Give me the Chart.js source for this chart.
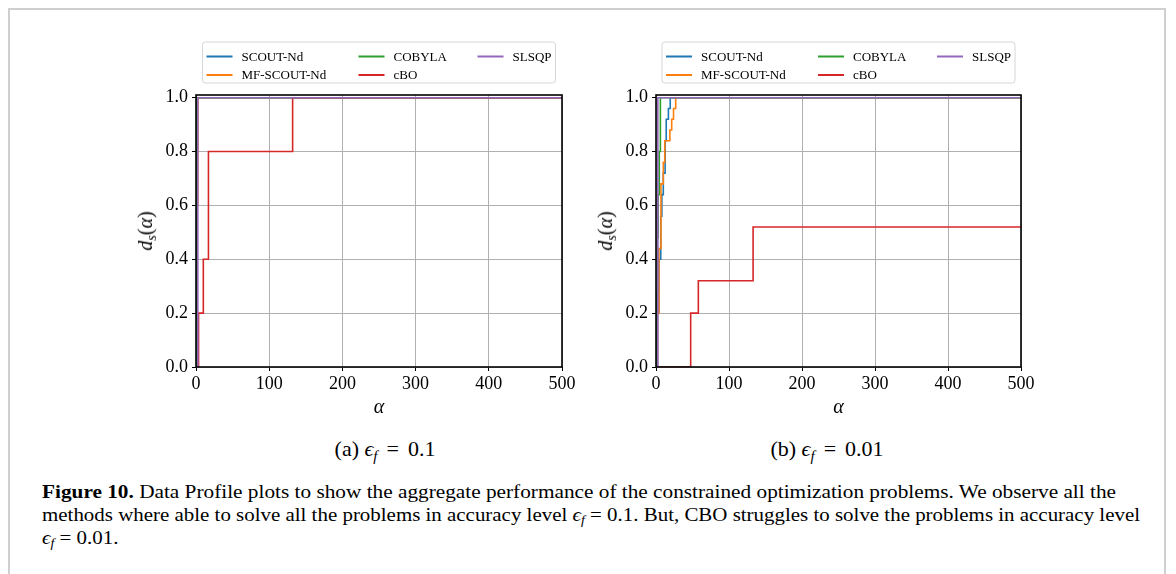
<!DOCTYPE html>
<html>
<head>
<meta charset="utf-8">
<script src="https://cdn.jsdelivr.net/npm/chart.js@4.4.1/dist/chart.umd.min.js"></script>
<style>
  body { margin: 0; width: 1176px; height: 574px; background: #fff; position: relative; overflow: hidden;
         font-family: "Liberation Serif", "DejaVu Serif", serif; color: #000; }
  #frame { position: absolute; left: 8px; top: 8px; width: 1158px; height: 620px; border: 2px solid #cfcfcf; box-sizing: border-box; }
  canvas { position: absolute; }
  .ytitle { position: absolute; font-size: 20px; white-space: nowrap; transform: translate(-50%, -50%) rotate(-90deg); }
  .ytitle sub { font-size: 14px; vertical-align: -4px; }
  .subcap { position: absolute; font-size: 22px; white-space: nowrap; transform: translate(-50%, -50%); }
  .subcap sub { font-size: 15px; vertical-align: -5px; }
  .subcap .rel { margin: 0 9px; }
  .capline { position: absolute; left: 42px; font-size: 18px; white-space: nowrap; transform-origin: 0 50%; }
  .capline sub { font-size: 12px; vertical-align: -3px; }
</style>
</head>
<body>
<div id="frame"></div>
<canvas id="chartA" width="470" height="400" style="left:120px;top:30px"></canvas>
<canvas id="chartB" width="470" height="400" style="left:580px;top:30px"></canvas>

<div class="ytitle" style="left:147px;top:231px"><i>d</i><sub><i>s</i></sub>(<i>α</i>)</div>
<div class="ytitle" style="left:607px;top:231px"><i>d</i><sub><i>s</i></sub>(<i>α</i>)</div>

<div class="subcap" style="left:385px;top:450px">(a) <i>ϵ</i><sub><i>f</i></sub><span class="rel">=</span>0.1</div>
<div class="subcap" style="left:827px;top:450px">(b) <i>ϵ</i><sub><i>f</i></sub><span class="rel">=</span>0.01</div>

<div class="capline" id="cap1" style="top:482px"><b>Figure 10.</b> Data Profile plots to show the aggregate performance of the constrained optimization problems. We observe all the</div>
<div class="capline" id="cap2" style="top:505px">methods where able to solve all the problems in accuracy level <i>ϵ</i><sub><i>f</i></sub> = 0.1. But, CBO struggles to solve the problems in accuracy level</div>
<div class="capline" id="cap3" style="top:528px"><i>ϵ</i><sub><i>f</i></sub> = 0.01.</div>

<script>
// Methods, colours and axis ticks
const seriesNames  = ['SCOUT-Nd', 'MF-SCOUT-Nd', 'COBYLA', 'cBO', 'SLSQP'];
const seriesColors = ['#1f77b4', '#ff7f0e', '#2ca02c', '#d62728', '#9467bd'];
const xTicks = [0, 100, 200, 300, 400, 500];
const yTicks = [0.0, 0.2, 0.4, 0.6, 0.8, 1.0];

// Data profiles at accuracy level eps_f = 0.1
const a_scoutAlpha = [0, 1, 2, 500];
const a_scoutDs    = [0, 0.8, 1.0, 1.0];
const a_mfAlpha    = [0, 1, 2.5, 500];
const a_mfDs       = [0, 0.6, 1.0, 1.0];
const a_cobylaAlpha = [0, 0.8, 500];
const a_cobylaDs    = [0, 1.0, 1.0];
const a_cboAlpha   = [0, 3.5, 10, 17, 132, 500];
const a_cboDs      = [0, 0.2, 0.4, 0.8, 1.0, 1.0];
const a_slsqpAlpha = [0, 2.5, 500];
const a_slsqpDs    = [0, 1.0, 1.0];

// Data profiles at accuracy level eps_f = 0.01
const b_scoutAlpha = [0, 2, 4, 6.5, 8, 10, 12.5, 14, 17, 19.5, 500];
const b_scoutDs    = [0, 0.2, 0.4, 0.56, 0.64, 0.72, 0.84, 0.92, 0.96, 1.0, 1.0];
const b_mfAlpha    = [0, 2, 4, 6.8, 10, 12, 19, 21.5, 24, 27, 500];
const b_mfDs       = [0, 0.2, 0.44, 0.68, 0.76, 0.84, 0.88, 0.92, 0.96, 1.0, 1.0];
const b_cobylaAlpha = [0, 1, 2, 3, 4.5, 6, 500];
const b_cobylaDs    = [0, 0.28, 0.48, 0.64, 0.8, 1.0, 1.0];
const b_cboAlpha   = [0, 47.5, 58, 133, 500];
const b_cboDs      = [0, 0.2, 0.32, 0.52, 0.52];
const b_slsqpAlpha = [0, 2.5, 500];
const b_slsqpDs    = [0, 1.0, 1.0];

const FONT = '"Liberation Serif", "DejaVu Serif", serif';
// later methods are drawn on top (SLSQP uppermost)
const drawOrder = [4, 3, 2, 1, 0];

function buildDatasets(pairs) {
  return pairs.map(([alpha, ds], i) => ({
    label: seriesNames[i],
    data: alpha.map((a, k) => ({ x: a, y: ds[k] })),
    borderColor: seriesColors[i],
    backgroundColor: seriesColors[i],
    borderWidth: 1.6,
    stepped: 'before',
    pointRadius: 0,
    fill: false,
    clip: 0,
    order: drawOrder[i]
  }));
}

// Full black box round the axes, drawn over the curves
const spinesPlugin = {
  id: 'spines',
  afterDatasetsDraw(chart) {
    const { ctx, chartArea: a } = chart;
    ctx.save();
    ctx.strokeStyle = '#000';
    ctx.lineWidth = 1.6;
    ctx.strokeRect(a.left, a.top, a.right - a.left, a.bottom - a.top);
    ctx.restore();
  }
};

// Three-column legend centred above the axes, filled column by column
const columnLegendPlugin = {
  id: 'columnLegend',
  afterDraw(chart) {
    const { ctx, chartArea: a } = chart;
    const w = 353, h = 41;
    const left = (a.left + a.right) / 2 - w / 2;
    const top = a.top - 12 - h;
    ctx.save();
    ctx.beginPath();
    ctx.roundRect(left, top, w, h, 3);
    ctx.fillStyle = 'rgba(255,255,255,0.8)';
    ctx.fill();
    ctx.strokeStyle = '#d6d6d6';
    ctx.lineWidth = 1;
    ctx.stroke();
    const colX = [4, 156, 275];
    const rowY = [14.5, 33];
    ctx.font = '13px ' + FONT;
    ctx.textBaseline = 'middle';
    ctx.textAlign = 'left';
    chart.data.datasets.forEach((d, i) => {
      const c = Math.floor(i / 2), r = i % 2;
      const x = left + colX[c], y = top + rowY[r];
      ctx.strokeStyle = d.borderColor;
      ctx.lineWidth = 2;
      ctx.beginPath();
      ctx.moveTo(x, y);
      ctx.lineTo(x + 26, y);
      ctx.stroke();
      ctx.fillStyle = '#000';
      ctx.fillText(d.label, x + 35, y + 1);
    });
    ctx.restore();
  }
};

function makeChart(id, datasets, padRight) {
  return new Chart(document.getElementById(id), {
    type: 'line',
    data: { datasets },
    options: {
      responsive: false,
      animation: false,
      devicePixelRatio: 1,
      layout: { padding: { left: 0, right: padRight, top: 65, bottom: 0 } },
      plugins: { legend: { display: false }, tooltip: { enabled: false } },
      scales: {
        x: {
          type: 'linear', min: 0, max: 500,
          afterBuildTicks: s => { s.ticks = xTicks.map(v => ({ value: v })); },
          afterFit: s => { s.height = 63; },
          border: { display: false },
          grid: { color: '#b0b0b0', lineWidth: 1, tickColor: '#000', tickLength: 4 },
          ticks: { color: '#000', font: { family: FONT, size: 18 }, padding: 2, maxRotation: 0,
                   callback: v => String(v) },
          title: { display: true, text: 'α', color: '#000',
                   font: { family: FONT, size: 20, style: 'italic' }, padding: { top: 0, bottom: 10 } }
        },
        y: {
          type: 'linear', min: 0, max: 1.01,
          afterBuildTicks: s => { s.ticks = yTicks.map(v => ({ value: v })); },
          afterFit: s => { s.width = 76; },
          border: { display: false },
          grid: { color: '#b0b0b0', lineWidth: 1, tickColor: '#000', tickLength: 4 },
          ticks: { color: '#000', font: { family: FONT, size: 18 }, padding: 4,
                   callback: v => Number(v).toFixed(1) }
        }
      }
    },
    plugins: [spinesPlugin, columnLegendPlugin]
  });
}

makeChart('chartA', buildDatasets([
  [a_scoutAlpha, a_scoutDs], [a_mfAlpha, a_mfDs], [a_cobylaAlpha, a_cobylaDs],
  [a_cboAlpha, a_cboDs], [a_slsqpAlpha, a_slsqpDs]
]), 28);

makeChart('chartB', buildDatasets([
  [b_scoutAlpha, b_scoutDs], [b_mfAlpha, b_mfDs], [b_cobylaAlpha, b_cobylaDs],
  [b_cboAlpha, b_cboDs], [b_slsqpAlpha, b_slsqpDs]
]), 29);

// Narrow the caption lines to the text block width
const cap1 = document.getElementById('cap1'), cap2 = document.getElementById('cap2'), cap3 = document.getElementById('cap3');
const s1 = 1074 / cap1.getBoundingClientRect().width;
const s2 = 1098 / cap2.getBoundingClientRect().width;
cap1.style.transform = 'scaleX(' + s1 + ')';
cap2.style.transform = 'scaleX(' + s2 + ')';
cap3.style.transform = 'scaleX(' + s2 + ')';
</script>
</body>
</html>
